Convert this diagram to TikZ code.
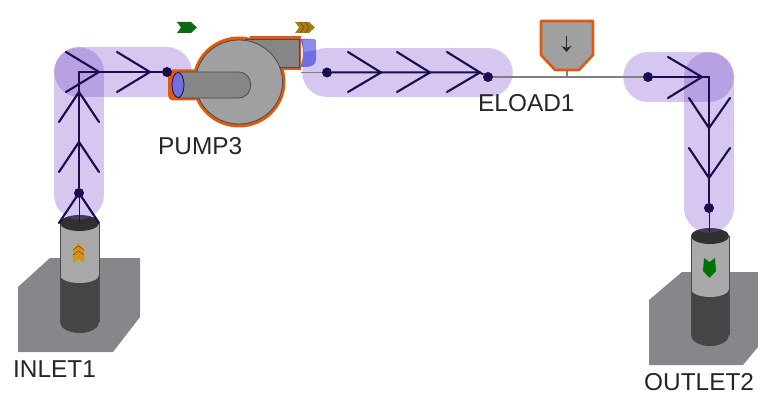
\documentclass[tikz,border=0pt]{standalone}
\usepackage{fontspec}
\setmainfont{Liberation Sans}
\usetikzlibrary{arrows.meta}
\definecolor{hl}{HTML}{7B52CC}
\definecolor{ink}{HTML}{1C0C50}
\definecolor{basegray}{HTML}{86868B}
\definecolor{pipelight}{HTML}{A9A9A9}
\definecolor{pipedark}{HTML}{454545}
\definecolor{pipetop}{HTML}{303030}
\definecolor{pumpgray}{HTML}{A0A0A0}
\definecolor{tubegray}{HTML}{868686}
\definecolor{edgegray}{HTML}{4A4A4A}
\definecolor{orangeedge}{HTML}{DD5A10}
\definecolor{bluepart}{HTML}{6F6FE0}
\definecolor{bluelight}{HTML}{8C8CEA}
\definecolor{goldhint}{HTML}{A67C14}
\definecolor{greenhint}{HTML}{0E6A12}
\definecolor{amber}{HTML}{D9920E}
\tikzset{
  x=1pt,y=-1pt,
  halo/.style={draw=hl,opacity=0.32,line width=49.5pt,line cap=round,line join=round},
  flowline/.style={draw=ink,line width=2pt},
  chev/.style={draw=ink,line width=2.1pt,line cap=round,line join=miter},
  thinline/.style={draw=black!50,line width=1.2pt},
  dotn/.style={circle,fill=ink,draw=none,minimum size=10pt,inner sep=0pt},
  lbl/.style={font=\fontsize{24.4}{28}\selectfont,text=black!85,inner sep=0pt},
  baseplate/.style={fill=basegray,draw=none},
}
\begin{document}
\begin{tikzpicture}
\useasboundingbox (0,0) rectangle (758,393);
\coordinate (c1) at (79,72);
\coordinate (c2) at (488,72.5);
\coordinate (c3) at (709,77);
% inlet
\fill[baseplate] (50,258) -- (140,258) -- (140,317) -- (113,352) -- (18,352) -- (18,287) -- cycle;
\fill[pipedark] (60,275) rectangle (99,322);
\fill[pipedark] (79.5,322) ellipse [x radius=19.5, y radius=11];
\fill[pipelight] (60,222) rectangle (99,275);
\fill[pipelight] (79.5,275) ellipse [x radius=19.5, y radius=8];
\fill[pipetop] (79.5,223) ellipse [x radius=19.5, y radius=8];
\draw[edgegray,line width=.6pt] (60,224) -- (60,322) (99,224) -- (99,322);
\fill[amber] (73,250) -- (78.5,243) -- (84,250) -- (84,263) -- (78.5,259) -- (73,263) -- cycle;
\draw[orange!50!black,line width=.5pt] (73,250) -- (78.5,246) -- (84,250) (73,255) -- (78.5,251) -- (84,255);
% outlet
\fill[baseplate] (682,272) -- (758,272) -- (758,347) -- (743,365) -- (649,365) -- (649,300) -- cycle;
\fill[pipedark] (691,289) rectangle (729,335);
\fill[pipedark] (710,335) ellipse [x radius=19, y radius=11];
\fill[pipelight] (691,236) rectangle (729,289);
\fill[pipelight] (710,289) ellipse [x radius=19, y radius=8];
\fill[pipetop] (710,236) ellipse [x radius=19, y radius=8];
\draw[edgegray,line width=.6pt] (691,236) -- (691,335) (729,236) -- (729,335);
\fill[green!45!black] (704,258) -- (709.5,262) -- (715,258) -- (716,271) -- (709.5,278) -- (703,271) -- cycle;
% halos
\draw[halo] (79,195) -- (c1);
\draw[halo] (c1) -- (167,72);
\draw[halo] (327,72.5) -- (c2);
\draw[halo] (648,77) -- (c3);
\draw[halo] (c3) -- (709,208);
% eload
\draw[fill=pumpgray,draw=orangeedge,line width=2.6pt,line join=round] (541,21) -- (593,21) -- (593,55) -- (579,70) -- (555,70) -- (541,55) -- cycle;
\draw[draw=black!85,line width=1.5pt,-{Stealth[length=6pt,width=10pt]}] (566.5,36) -- (566.5,52);
% pump: orange silhouette, then parts
\fill[orangeedge,rounded corners=5pt] (168,69.5) rectangle (205,100.5);
\fill[orangeedge] (250,36.5) rectangle (301,70);
\fill[orangeedge] (239,82) ellipse [x radius=46.5, y radius=45.5];
\fill[tubegray] (245,39.5) rectangle (299,67);
\draw[edgegray,line width=.8pt] (245,39.5) -- (299,39.5) -- (299,67) -- (275,67);
\draw[edgegray,line width=.8pt,fill=pumpgray] (239,82) ellipse [x radius=43.5, y radius=42];
\fill[bluepart] (300,39) -- (312,39) .. controls (316,39) and (316,40) .. (316,45) -- (316,60) .. controls (316,64) and (312,67) .. (306,67) -- (300,67) .. controls (304,58) and (304,48) .. (300,39);
\fill[bluelight] (303,40) -- (312,39) .. controls (316,39) and (316,42) .. (316,50) -- (304,52) -- cycle;
\draw[edgegray,line width=.8pt,fill=tubegray] (178,72) -- (238,72) .. controls (255,72) and (255,98) .. (238,98) -- (178,98) -- cycle;
\draw[ink,line width=.8pt,fill=bluepart] (178,85) ellipse [x radius=6, y radius=12.5];
% flow lines
\node[dotn] (d1) at (79,193) {};
\node[dotn] (d2) at (167,72) {};
\node[dotn] (d3) at (327,72.5) {};
\node[dotn] (d4) at (488,77) {};
\node[dotn] (d5) at (648,77) {};
\node[dotn] (d6) at (709,208) {};
\coordinate (pumpout) at (301,72.5);
\coordinate (eloadjoin) at (567,77);
\coordinate (eloadfoot) at (567,71);
\draw[thinline] (d4) -- (d5);
\draw[thinline] (pumpout) -- (d3);
\draw[thinline] (eloadfoot) -- (eloadjoin);
\draw[flowline] (d1) -- (c1) -- (d2);
\draw[flowline] (d3) -- (480,72.5) -- (d4);
\draw[flowline] (d5) -- (c3) -- (d6);
\draw[flowline,line width=.7pt] (d1) -- (79,222);
\draw[flowline,line width=.9pt] (d6) -- (709,232);
\foreach \y in {92,142,193}{\draw[chev] (59,\y+30) -- (79,\y) -- (99,\y+30);}
\foreach \x in {99,150}{\draw[chev] (\x-33,52) -- (\x,72) -- (\x-33,92);}
\foreach \x in {381,430,480}{\draw[chev] (\x-33,52) -- (\x,72.5) -- (\x-33,92);}
\draw[chev] (668,57) -- (702,77) -- (668,98);
\foreach \y in {128,178}{\draw[chev] (689,\y-30) -- (709,\y) -- (730,\y-30);}
% hints
\fill[greenhint] (177,22) -- (191,22) -- (197,27.5) -- (191,33) -- (177,33) -- (181,27.5) -- cycle;
\fill[goldhint] (295,22) -- (309,22) -- (315,27.5) -- (309,33) -- (295,33) -- (299,27.5) -- cycle;
\draw[goldhint!60!black,line width=.6pt] (300,22) -- (304,27.5) -- (300,33) (305,22) -- (309,27.5) -- (305,33);
% labels
\node[lbl,anchor=west] (pumplabel) at (158,146) {PUMP3};
\node[lbl,anchor=west] (eloadlabel) at (478,103) {ELOAD1};
\node[lbl,anchor=west] (inletlabel) at (13,369) {INLET1};
\node[lbl,anchor=west] (outletlabel) at (644,382.5) {OUTLET2};
\end{tikzpicture}
\end{document}
